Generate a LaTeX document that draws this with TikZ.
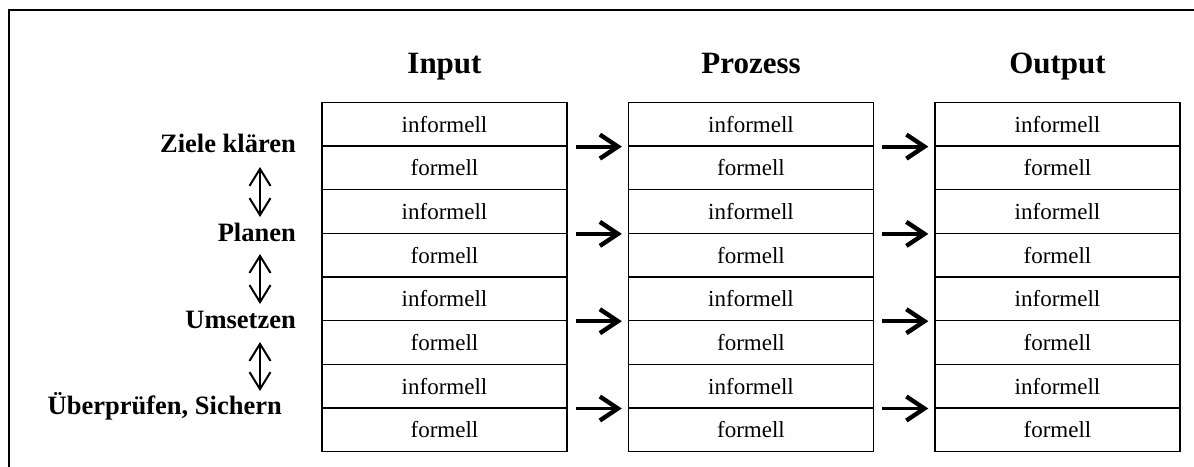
\documentclass[tikz,border=0pt]{standalone}
\usepackage{fontspec}
\setmainfont{Liberation Serif}
\usetikzlibrary{arrows.meta}
\begin{document}
\begin{tikzpicture}[x=1pt,y=-1pt,
  cell/.style={draw,line width=1.3pt,minimum width=245pt,minimum height=43.65pt,inner sep=0pt,
    font=\fontsize{23}{23}\selectfont},
  head/.style={anchor=base,font=\fontsize{31}{31}\selectfont\bfseries},
  lab/.style={anchor=base east,inner sep=0pt,font=\fontsize{26.5}{26.5}\selectfont\bfseries},
  flow/.style={line width=3.8pt,-{Straight Barb[length=18pt,width=24pt,line width=4.4pt]}},
  dbl/.style={line width=1.7pt,{Straight Barb[length=17pt,width=21pt,line width=2pt]}-{Straight Barb[length=17pt,width=21pt,line width=2pt]}}]
\useasboundingbox (0,0) rectangle (1194,466);
\begin{scope}
\clip (0,0) rectangle (1194,466);
\draw[line width=2.6pt] (9,480) -- (9,10) -- (1210,10);
\end{scope}
% headers
\node[head] (hin) at (444.5,73) {Input};
\node[head] (hpr) at (751,73) {Prozess};
\node[head] (hout) at (1057.5,73) {Output};
% cells
\foreach \c/\cx in {0/444.5,1/751,2/1057.5}{
  \foreach \r in {0,...,7}{
    \pgfmathsetmacro{\cy}{102.3+43.65*(\r+0.5)}
    \pgfmathtruncatemacro{\odd}{mod(\r,2)}
    \ifnum\odd=0
      \node[cell] (c\c r\r) at (\cx,\cy) {informell};
    \else
      \node[cell] (c\c r\r) at (\cx,\cy) {formell};
    \fi
  }
}
% flow arrows
\foreach \r in {0,2,4,6}{
  \draw[flow] ([xshift=8pt]c0r\r.south east) -- ([xshift=-6pt]c1r\r.south west);
  \draw[flow] ([xshift=8pt]c1r\r.south east) -- ([xshift=-6pt]c2r\r.south west);
}
% left labels
\node[lab] (l1) at (296,152) {Ziele klären};
\node[lab] (l2) at (296,241) {Planen};
\node[lab] (l3) at (296,328) {Umsetzen};
\node[lab] (l4) at (282,414) {Überprüfen, Sichern};
% double arrows
\coordinate (a1t) at (260,167); \coordinate (a1b) at (260,217);
\coordinate (a2t) at (260,254); \coordinate (a2b) at (260,304);
\coordinate (a3t) at (260,342); \coordinate (a3b) at (260,391);
\draw[dbl] (a1t) -- (a1b);
\draw[dbl] (a2t) -- (a2b);
\draw[dbl] (a3t) -- (a3b);
\end{tikzpicture}
\end{document}
